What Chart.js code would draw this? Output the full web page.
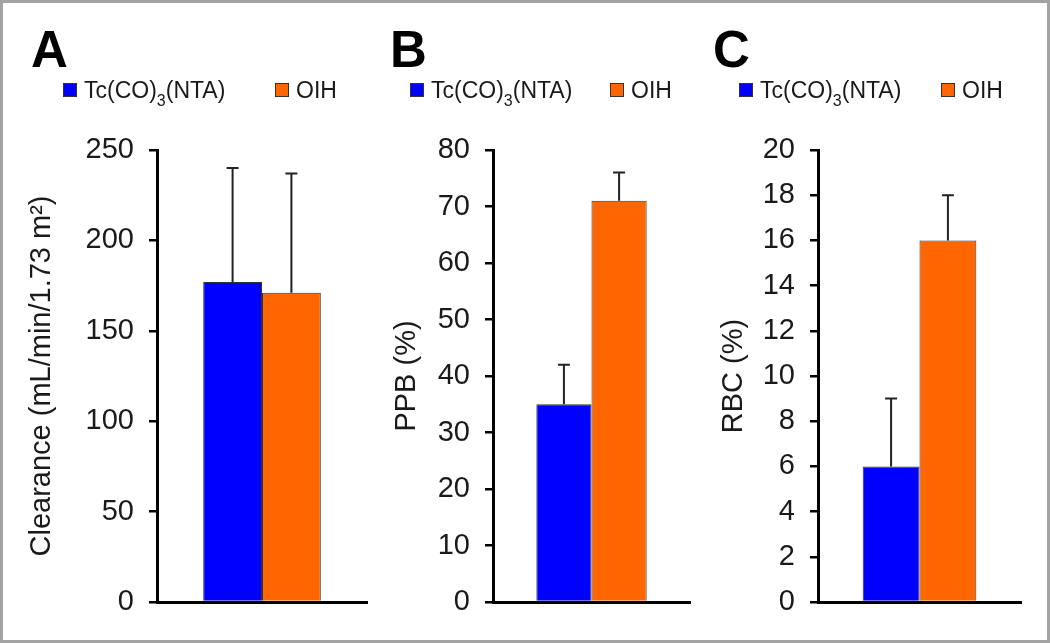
<!DOCTYPE html>
<html>
<head>
<meta charset="utf-8">
<script src="https://cdn.jsdelivr.net/npm/chart.js@4.4.0/dist/chart.umd.min.js"></script>
<style>
  html, body { margin: 0; padding: 0; background: #fff; }
  #frame { position: relative; width: 1050px; height: 643px; overflow: hidden;
           font-family: "Liberation Sans", Arial, sans-serif; color: #1a1a1a; }
  #frame canvas { position: absolute; top: 0; }
  .border { position: absolute; left: 0; top: 0; width: 1050px; height: 643px;
            box-sizing: border-box; border: 3px solid #a3a3a3; pointer-events: none; }
  .letter { position: absolute; top: 24px; font-weight: bold; font-size: 51px; line-height: 51px; color: #000; }
  .item { position: absolute; top: 78px; font-size: 23px; line-height: 24px; white-space: nowrap; }
  .item .box { display: inline-block; width: 12px; height: 12px; border: 1px solid #333;
               margin-right: 7px; vertical-align: 1px; }
  .item sub { font-size: 16px; vertical-align: -8px; line-height: 0; }
</style>
</head>
<body>
<div id="frame">
  <canvas id="chartA" width="380" height="643" style="left:0px"></canvas>
  <canvas id="chartB" width="320" height="643" style="left:380px"></canvas>
  <canvas id="chartC" width="350" height="643" style="left:700px"></canvas>
  <div class="border"></div>
</div>
<script>
// one category, two tracers
const categories = [""];
const seriesNames = ["Tc(CO)<sub>3</sub>(NTA)", "OIH"];
const seriesColors = ["#0000ff", "#ff6600"];

// A: clearance (mL/min/1.73 m2)
const clearanceMean = [177, 171];
const clearanceSD = [63, 66];
// B: plasma protein binding (%)
const ppbMean = [35, 71];
const ppbSD = [7, 5];
// C: red blood cell uptake (%)
const rbcMean = [6, 16];
const rbcSD = [3, 2];

const panels = [
  { id: "chartA", letter: "A", mean: clearanceMean, sd: clearanceSD, max: 250, step: 50,
    title: "Clearance (mL/min/1.73 m²)", left: 0, yWidth: 157, padRight: 13, titlePad: 25,
    letterX: 31, legendX: [63, 275] },
  { id: "chartB", letter: "B", mean: ppbMean, sd: ppbSD, max: 80, step: 10,
    title: "PPB (%)", left: 380, yWidth: 113, padRight: 10, titlePad: 10,
    letterX: 390, legendX: [410, 610] },
  { id: "chartC", letter: "C", mean: rbcMean, sd: rbcSD, max: 20, step: 2,
    title: "RBC (%)", left: 700, yWidth: 118, padRight: 29, titlePad: 17,
    letterX: 713, legendX: [739, 941] }
];

// draws the +SD whiskers on top of each bar
const errorBars = {
  id: "errorBars",
  afterDatasetsDraw(chart) {
    const ctx = chart.ctx;
    const yScale = chart.scales.y;
    chart.data.datasets.forEach((ds, i) => {
      chart.getDatasetMeta(i).data.forEach((bar, j) => {
        const top = yScale.getPixelForValue(ds.data[j] + ds.errors[j]);
        ctx.save();
        ctx.strokeStyle = "#222";
        ctx.lineWidth = 2;
        ctx.beginPath();
        ctx.moveTo(bar.x, bar.y);
        ctx.lineTo(bar.x, top);
        ctx.moveTo(bar.x - 6, top);
        ctx.lineTo(bar.x + 6, top);
        ctx.stroke();
        ctx.restore();
      });
    });
  }
};

const frame = document.getElementById("frame");

panels.forEach((p) => {
  // panel letter
  const letter = document.createElement("div");
  letter.className = "letter";
  letter.style.left = p.letterX + "px";
  letter.textContent = p.letter;
  frame.appendChild(letter);

  // legend
  seriesNames.forEach((name, i) => {
    const item = document.createElement("div");
    item.className = "item";
    item.style.left = p.legendX[i] + "px";
    item.innerHTML = '<span class="box" style="background:' + seriesColors[i] + '"></span>' + name;
    frame.appendChild(item);
  });

  new Chart(document.getElementById(p.id), {
    type: "bar",
    data: {
      labels: categories,
      datasets: seriesNames.map((name, i) => ({
        label: name.replace(/<[^>]+>/g, ""),
        data: [p.mean[i]],
        errors: [p.sd[i]],
        backgroundColor: seriesColors[i],
        borderColor: "#333",
        borderWidth: 1,
        categoryPercentage: 0.56,
        barPercentage: 1.0
      }))
    },
    options: {
      responsive: false,
      animation: false,
      layout: { padding: { top: 150, bottom: 41, left: 0, right: p.padRight } },
      plugins: { legend: { display: false }, tooltip: { enabled: false } },
      scales: {
        x: {
          grid: { display: false },
          ticks: { display: false },
          border: { display: true, color: "#000", width: 3 },
          afterFit: (s) => { s.height = 0; }
        },
        y: {
          min: 0,
          max: p.max,
          ticks: {
            stepSize: p.step,
            padding: 15,
            color: "#1a1a1a",
            font: { family: "Liberation Sans, Arial, sans-serif", size: 29 }
          },
          grid: { display: true, drawOnChartArea: false, drawTicks: true, tickLength: 8,
                  color: "#000", lineWidth: 2.5 },
          border: { display: true, color: "#000", width: 3 },
          title: {
            display: true,
            text: p.title,
            color: "#1a1a1a",
            padding: { top: p.titlePad, bottom: 0 },
            font: { family: "Liberation Sans, Arial, sans-serif", size: 29 }
          },
          afterFit: (s) => { s.width = p.yWidth; }
        }
      }
    },
    plugins: [errorBars]
  });
});
</script>
</body>
</html>
